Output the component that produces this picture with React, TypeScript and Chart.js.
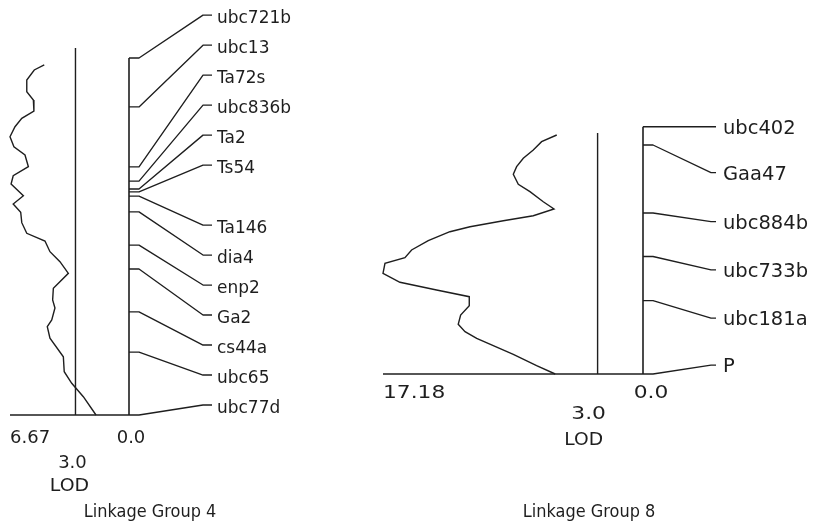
import React, { useEffect, useRef } from "react";
import { Chart, registerables } from "chart.js";

Chart.register(...registerables);

// ---------- Linkage Group 4 ----------
const LG4_TITLE = "Linkage Group 4";
const LG4_MAX_LOD = 6.67;
const LG4_THRESHOLD = 3.0;
const LG4_THRESHOLD_TOP = -2.8;
const LG4_CURVE_LOD = [4.75, 5.31, 5.73, 5.73, 5.36, 5.33, 6.01, 6.39, 6.67, 6.45, 5.83, 5.64, 6.49, 6.61, 5.92, 6.49, 6.07, 6.01, 5.73, 4.71, 4.43, 3.87, 3.4, 4.24, 4.28, 4.15, 4.33, 4.58, 4.43, 3.68, 3.63, 3.21, 2.56, 1.85];
const LG4_CURVE_POS = [1.96, 3.36, 6.16, 9.44, 11.76, 14.85, 16.89, 19.24, 22.04, 24.85, 27.17, 30.45, 32.97, 35.29, 38.57, 40.9, 43.22, 46.13, 49.1, 51.26, 54.26, 57.06, 60.31, 64.5, 67.79, 70.03, 73.39, 75.27, 78.5, 83.7, 87.87, 91.12, 94.87, 100];
const LG4_MARKERS = ["ubc721b", "ubc13", "Ta72s", "ubc836b", "Ta2", "Ts54", "Ta146", "dia4", "enp2", "Ga2", "cs44a", "ubc65", "ubc77d"];
const LG4_MARKER_POS = [0, 13.7, 30.5, 34.5, 36.7, 37.5, 38.7, 43.1, 52.4, 59.1, 71.1, 82.4, 100];
const LG4_LABEL_POS = [-12.0, -3.6, 4.8, 13.2, 21.6, 30.0, 46.8, 55.2, 63.6, 72.0, 80.4, 88.8, 97.2];

// ---------- Linkage Group 8 ----------
const LG8_TITLE = "Linkage Group 8";
const LG8_MAX_LOD = 17.18;
const LG8_THRESHOLD = 3.0;
const LG8_THRESHOLD_TOP = 2.55;
const LG8_CURVE_LOD = [5.7, 6.7, 7.25, 7.91, 8.35, 8.57, 8.24, 7.47, 6.59, 5.88, 7.25, 9.23, 11.43, 12.76, 14.19, 15.29, 15.73, 17.05, 17.18, 16.06, 13.64, 11.48, 11.48, 12.05, 12.21, 11.76, 10.99, 8.57, 7.03, 5.8];
const LG8_CURVE_POS = [3.36, 6.07, 9.42, 12.78, 16.17, 19.25, 23.29, 26.28, 30.33, 33.28, 35.99, 38.01, 40.44, 42.46, 46.1, 49.86, 52.97, 55.24, 59.28, 62.92, 66.03, 68.74, 72.38, 76.14, 79.9, 82.89, 85.56, 92.03, 96.64, 100];
const LG8_MARKERS = ["ubc402", "Gaa47", "ubc884b", "ubc733b", "ubc181a", "P"];
const LG8_MARKER_POS = [0, 7.4, 34.9, 52.5, 70.3, 100];
const LG8_LABEL_POS = [0, 18.6, 38.4, 57.9, 77.4, 96.4];

const INK = "#1e1e1e";

type PanelCfg = {
  width: number;
  left: number;
  padding: { left: number; right: number; top: number; bottom: number };
  title: string;
  maxLod: number;
  threshold: number;
  thresholdTop: number;
  curveLod: number[];
  curvePos: number[];
  markers: string[];
  markerPos: number[];
  labelPos: number[];
  conn: { stub: number; diag: number; end: number; text: number; dy: number };
  labelFont: string;
  labelSx: number;
  tickFont: string;
  tickSx: number;
  lodSx: number;
  tickDy: number;
  thrDy: number;
  lodDy: number;
  zeroDx: number;
  thrDx: number;
  lodDx: number;
  titleDx: number;
  titleY: number;
  titleFont: string;
  titleSx: number;
};

function drawText(ctx: CanvasRenderingContext2D, s: string, x: number, y: number, align: CanvasTextAlign, sx: number, font: string) {
  ctx.save();
  ctx.font = font;
  ctx.textAlign = align;
  ctx.textBaseline = "middle";
  ctx.fillStyle = INK;
  ctx.translate(x, y);
  ctx.scale(sx, 1);
  ctx.fillText(s, 0, 0);
  ctx.restore();
}

function makePlugin(cfg: PanelCfg) {
  return {
    id: "linkageDecor",
    afterDatasetsDraw(chart: any) {
      const ctx: CanvasRenderingContext2D = chart.ctx;
      const xs = chart.scales.x;
      const ys = chart.scales.y;
      const px0 = xs.getPixelForValue(0);
      const pxMax = xs.getPixelForValue(cfg.maxLod);
      const pxThr = xs.getPixelForValue(cfg.threshold);
      const base = ys.getPixelForValue(100);
      ctx.save();
      ctx.strokeStyle = INK;
      ctx.lineWidth = 1.35;
      ctx.lineJoin = "round";
      cfg.markers.forEach((name, i) => {
        const my = ys.getPixelForValue(cfg.markerPos[i]);
        const ly = ys.getPixelForValue(cfg.labelPos[i]);
        ctx.beginPath();
        ctx.moveTo(px0, my);
        ctx.lineTo(px0 + cfg.conn.stub, my);
        ctx.lineTo(px0 + cfg.conn.diag, ly);
        ctx.lineTo(px0 + cfg.conn.end, ly);
        ctx.stroke();
        drawText(ctx, name, px0 + cfg.conn.text, ly + cfg.conn.dy, "left", cfg.labelSx, cfg.labelFont);
      });
      ctx.restore();
      drawText(ctx, cfg.maxLod.toFixed(2), pxMax, base + cfg.tickDy, "left", cfg.tickSx, cfg.tickFont);
      drawText(ctx, "0.0", px0 + cfg.zeroDx, base + cfg.tickDy, "center", cfg.tickSx, cfg.tickFont);
      drawText(ctx, cfg.threshold.toFixed(1), pxThr + cfg.thrDx, base + cfg.thrDy, "center", cfg.tickSx, cfg.tickFont);
      drawText(ctx, "LOD", pxThr + cfg.lodDx, base + cfg.lodDy, "center", cfg.lodSx, cfg.tickFont);
      drawText(ctx, cfg.title, px0 + cfg.titleDx, cfg.titleY, "center", cfg.titleSx, cfg.titleFont);
    },
  };
}

function Panel({ cfg }: { cfg: PanelCfg }) {
  const ref = useRef<HTMLCanvasElement | null>(null);
  useEffect(() => {
    if (!ref.current) return;
    const line = (data: { x: number; y: number }[], w: number) => ({
      data,
      showLine: true,
      borderColor: INK,
      borderWidth: w,
      pointRadius: 0,
      tension: 0,
      clip: false as any,
    });
    const curve = cfg.curveLod.map((v, i) => ({ x: v, y: cfg.curvePos[i] }));
    const chart = new Chart(ref.current, {
      type: "scatter",
      data: {
        datasets: [
          line(curve, 1.4),
          line([{ x: 0, y: 0 }, { x: 0, y: 100 }], 1.6),
          line([{ x: cfg.threshold, y: cfg.thresholdTop }, { x: cfg.threshold, y: 100 }], 1.4),
          line([{ x: cfg.maxLod, y: 100 }, { x: 0, y: 100 }], 1.6),
        ] as any,
      },
      options: {
        responsive: false,
        animation: false,
        events: [],
        layout: { padding: cfg.padding },
        scales: {
          x: { type: "linear", reverse: true, min: 0, max: cfg.maxLod, display: false },
          y: { type: "linear", reverse: true, min: 0, max: 100, display: false },
        },
        plugins: { legend: { display: false }, tooltip: { enabled: false } },
      },
      plugins: [makePlugin(cfg)],
    });
    return () => chart.destroy();
  }, [cfg]);
  return (
    <canvas
      ref={ref}
      width={cfg.width}
      height={522}
      style={{ position: "absolute", left: cfg.left, top: 0, width: cfg.width, height: 522, display: "block" }}
    />
  );
}

const LG4_CFG: PanelCfg = {
  width: 360,
  left: 0,
  padding: { left: 10, right: 231, top: 58, bottom: 107 },
  title: LG4_TITLE,
  maxLod: LG4_MAX_LOD,
  threshold: LG4_THRESHOLD,
  thresholdTop: LG4_THRESHOLD_TOP,
  curveLod: LG4_CURVE_LOD,
  curvePos: LG4_CURVE_POS,
  markers: LG4_MARKERS,
  markerPos: LG4_MARKER_POS,
  labelPos: LG4_LABEL_POS,
  conn: { stub: 10, diag: 74, end: 83, text: 88, dy: 3 },
  labelFont: '17.5px "DejaVu Sans"',
  labelSx: 0.97,
  tickFont: '18px "DejaVu Sans"',
  tickSx: 1,
  lodSx: 1.05,
  tickDy: 23,
  thrDy: 48,
  lodDy: 71,
  zeroDx: 2,
  thrDx: -3,
  lodDx: -6,
  titleDx: 21,
  titleY: 513,
  titleFont: '17px "DejaVu Sans"',
  titleSx: 0.95,
};

const LG8_CFG: PanelCfg = {
  width: 458,
  left: 360,
  padding: { left: 23, right: 175, top: 126.7, bottom: 148 },
  title: LG8_TITLE,
  maxLod: LG8_MAX_LOD,
  threshold: LG8_THRESHOLD,
  thresholdTop: LG8_THRESHOLD_TOP,
  curveLod: LG8_CURVE_LOD,
  curvePos: LG8_CURVE_POS,
  markers: LG8_MARKERS,
  markerPos: LG8_MARKER_POS,
  labelPos: LG8_LABEL_POS,
  conn: { stub: 10, diag: 68, end: 73, text: 80, dy: 2 },
  labelFont: '19.5px "DejaVu Sans"',
  labelSx: 1,
  tickFont: '17px "DejaVu Sans"',
  tickSx: 1.28,
  lodSx: 1.1,
  tickDy: 20,
  thrDy: 41,
  lodDy: 67,
  zeroDx: 8,
  thrDx: -9,
  lodDx: -14,
  titleDx: -54,
  titleY: 513,
  titleFont: '17px "DejaVu Sans"',
  titleSx: 0.95,
};

export default function App() {
  return (
    <div style={{ position: "absolute", left: 0, top: 0, width: 818, height: 522, background: "#ffffff" }}>
      <Panel cfg={LG4_CFG} />
      <Panel cfg={LG8_CFG} />
    </div>
  );
}
